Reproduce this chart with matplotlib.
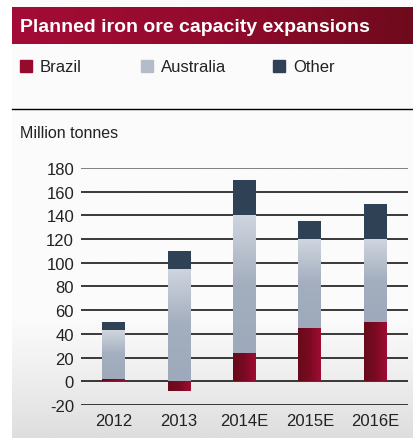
import numpy as np
import matplotlib
matplotlib.use("Agg")
import matplotlib.pyplot as plt
from matplotlib.colors import LinearSegmentedColormap

years = ["2012", "2013", "2014E", "2015E", "2016E"]
brazil = [2, -8, 24, 45, 50]
australia = [41, 95, 116, 75, 70]
other = [7, 15, 30, 15, 30]

W, H = 414, 439
plt.rcParams['font.family'] = ['Liberation Sans', 'DejaVu Sans']
plt.rcParams['axes.unicode_minus'] = False

fig = plt.figure(figsize=(W / 100, H / 100), dpi=100)
fig.patch.set_facecolor('white')

# panel background: white fading to light grey at the bottom
bg = fig.add_axes([12 / W, 0, 1 - 12 / W, 1], zorder=-10)
grad = np.linspace(0, 1, 256) ** 2.2
bg_cmap = LinearSegmentedColormap.from_list('bg', ['#fbfbfb', '#fbfbfb', '#dedede'])
bg.imshow(grad[:, None], aspect='auto', cmap=bg_cmap, extent=[0, 1, 0, 1], origin='upper')
bg.set_axis_off()

# title banner
ban = fig.add_axes([12 / W, 1 - 45 / H, 1 - 12 / W, 37 / H], zorder=-5)
ban_cmap = LinearSegmentedColormap.from_list('ban', ['#a30c36', '#930a2e', '#6e0a1c'])
ban.imshow(np.linspace(0, 1, 256)[None, :], aspect='auto', cmap=ban_cmap, extent=[0, 1, 0, 1])
ban.set_axis_off()
fig.text(20 / W, 1 - 27 / H, "Planned iron ore capacity expansions", color='white',
         fontsize=14, fontweight='bold', va='center', ha='left')

# legend
legend_items = [("Brazil", '#960a2e', 20), ("Australia", '#b4bcc8', 141), ("Other", '#2f4255', 273)]
for name, col, x in legend_items:
    fig.patches.append(plt.Rectangle((x / W, 1 - 73 / H), 12 / W, 12 / H, color=col,
                                     transform=fig.transFigure))
    fig.text((x + 20) / W, 1 - 67 / H, name, fontsize=12, va='center', ha='left', color='#222222')

fig.add_artist(plt.Line2D([12 / W, 1], [1 - 110 / H, 1 - 110 / H], color='black', lw=1))
fig.text(20 / W, 1 - 134 / H, "Million tonnes", fontsize=11.5, va='center', ha='left', color='#222222')

ax = fig.add_axes([81 / W, 1 - 406 / H, 327 / W, 237 / H])
ax.patch.set_alpha(0)
x = np.arange(len(years))
bw = 0.35

bottoms_aus = [max(b, 0) for b in brazil]
tops_aus = [ba + a for ba, a in zip(bottoms_aus, australia)]
b1 = ax.bar(x, brazil, bw, color='#8a0a28', zorder=3)
b2 = ax.bar(x, australia, bw, bottom=bottoms_aus, color='#b8c0cc', zorder=3)
b3 = ax.bar(x, other, bw, bottom=tops_aus, color='#2f4255', zorder=3)

# gradients clipped to the bars
braz_cmap = LinearSegmentedColormap.from_list('br', ['#680a1a', '#7a0a22', '#a00c34'])
aus_cmap = LinearSegmentedColormap.from_list('au', ['#9eaabb', '#a3aebe', '#cfd5de'])
for p in b1:
    x0, y0, w, h = p.get_x(), p.get_y(), p.get_width(), p.get_height()
    im = ax.imshow(np.linspace(0, 1, 64)[None, :], cmap=braz_cmap, aspect='auto',
                   extent=[x0, x0 + w, min(y0, y0 + h), max(y0, y0 + h)], zorder=4)
    im.set_clip_path(p)
for p in b2:
    x0, y0, w, h = p.get_x(), p.get_y(), p.get_width(), p.get_height()
    im = ax.imshow(np.linspace(0, 1, 64)[:, None], cmap=aus_cmap, aspect='auto', origin='lower',
                   extent=[x0, x0 + w, y0, y0 + h], zorder=4)
    im.set_clip_path(p)

ax.set_xlim(-0.5, 4.5)
ax.set_ylim(-20, 180)
ax.set_yticks(range(-20, 181, 20))
ax.set_xticks(x)
ax.set_xticklabels(years)
for yv in range(-20, 181, 20):
    ax.axhline(yv, color='#777777' if yv == 180 else '#2a2a2a', lw=1.3, zorder=1)
for s in ax.spines.values():
    s.set_visible(False)
ax.tick_params(length=0, labelsize=12, colors='#222222')
ax.tick_params(axis='y', pad=5)
ax.tick_params(axis='x', pad=6)

fig.savefig("out.png", dpi=100)
